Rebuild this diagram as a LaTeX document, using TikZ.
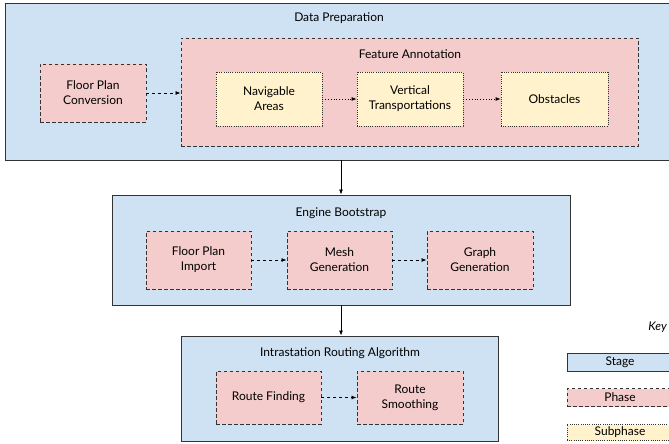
\documentclass[tikz,border=0pt]{standalone}
\usepackage{fontspec}
\setmainfont{Lato}
\usetikzlibrary{arrows.meta}
\definecolor{stagefill}{HTML}{CFE2F3}
\definecolor{phasefill}{HTML}{F4CCCC}
\definecolor{subfill}{HTML}{FFF2CC}
\definecolor{edge}{HTML}{333333}
\tikzset{
  box/.style={draw=edge, line width=0.9pt, align=center, font=\fontsize{12}{15}\selectfont, inner sep=0pt},
  stagebox/.style={box, fill=stagefill},
  phasebox/.style={box, fill=phasefill, dash pattern=on 3.5pt off 2.5pt},
  subbox/.style={box, fill=subfill, line width=0.8pt, dash pattern=on 1pt off 1.2pt},
  ttl/.style={font=\fontsize{12}{15}\selectfont, inner sep=0pt},
  tip/.style={-{Latex[length=5pt,width=4pt]}},
  conn/.style={tip, draw=black, line width=0.8pt},
}
\begin{document}
\begin{tikzpicture}[x=1pt,y=-1pt]
\useasboundingbox (0,0) rectangle (669,444);
% Data Preparation stage
\node[stagebox, minimum width=668pt, minimum height=157pt] (dp) at (339,81.5) {};
\node[ttl] (dpt) at (339,18) {Data Preparation};
\node[phasebox, minimum width=457pt, minimum height=108pt] (fa) at (409.5,92) {};
\node[ttl] (fat) at (410,54) {Feature Annotation};
\node[phasebox, minimum width=106pt, minimum height=58pt] (fpc) at (93,93) {Floor Plan\\Conversion};
\node[subbox, minimum width=106pt, minimum height=54pt] (na) at (269,99) {Navigable\\Areas};
\node[subbox, minimum width=106pt, minimum height=54pt] (vt) at (410,99) {Vertical\\Transportations};
\node[subbox, minimum width=107pt, minimum height=54pt] (ob) at (554.5,99) {Obstacles};
\draw[conn, dashed] (fpc.east) -- (fpc.east -| fa.west);
\draw[conn, dotted] (na) -- (vt);
\draw[conn, dotted] (vt) -- (ob);
% Engine Bootstrap
\node[stagebox, minimum width=458pt, minimum height=110pt] (eb) at (341,250) {};
\node[ttl] (ebt) at (341,213) {Engine Bootstrap};
\node[phasebox, minimum width=105pt, minimum height=58pt] (fpi) at (198.5,260) {Floor Plan\\Import};
\node[phasebox, minimum width=105pt, minimum height=58pt] (mg) at (339.5,260) {Mesh\\Generation};
\node[phasebox, minimum width=106pt, minimum height=58pt] (gg) at (480,260) {Graph\\Generation};
\draw[conn, dashed] (fpi) -- (mg);
\draw[conn, dashed] (mg) -- (gg);
\draw[conn] (dp.south -| eb.north) -- (eb.north);
% Intrastation Routing Algorithm
\node[stagebox, minimum width=317pt, minimum height=105pt] (ir) at (339.5,388.5) {};
\node[ttl] (irt) at (340,353) {Intrastation Routing Algorithm};
\node[phasebox, minimum width=105pt, minimum height=53pt] (rf) at (268.5,397.5) {Route Finding};
\node[phasebox, minimum width=106pt, minimum height=53pt] (rs) at (410,397.5) {Route\\Smoothing};
\draw[conn, dashed] (rf) -- (rs);
\draw[conn] (eb.south) -- (eb.south |- ir.north);
% Key
\node[ttl, anchor=east, font=\fontsize{12}{15}\selectfont\itshape] (key) at (667,327) {Key};
\node[stagebox, minimum width=106pt, minimum height=18pt] (ks) at (620,362.5) {Stage};
\node[phasebox, minimum width=106pt, minimum height=18pt] (kp) at (620,397.5) {Phase};
\node[subbox, minimum width=106pt, minimum height=16pt] (ksp) at (620,432.5) {Subphase};
\end{tikzpicture}
\end{document}
